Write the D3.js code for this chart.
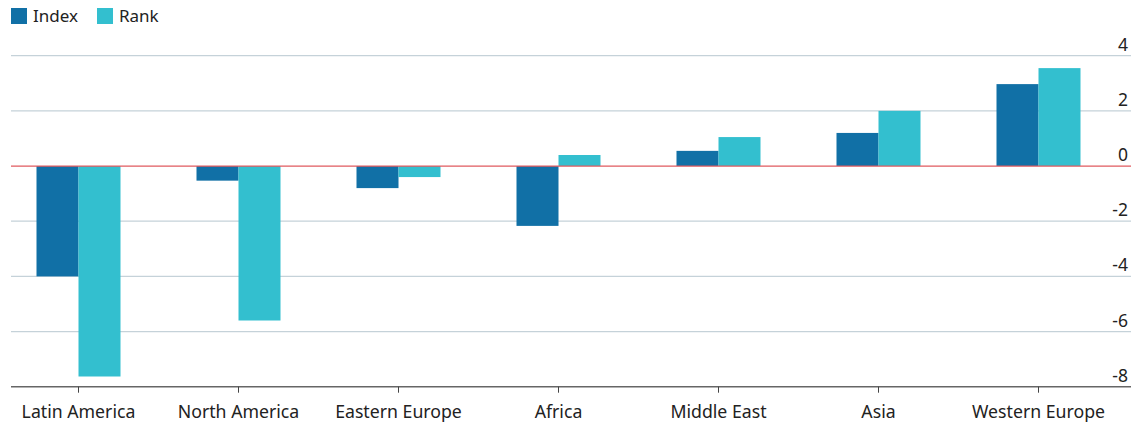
<!DOCTYPE html>
<html><head><meta charset="utf-8">
<script src="https://cdn.jsdelivr.net/npm/d3@7"></script>
<style>body{margin:0;background:#fff}text{font-family:"Noto Sans",sans-serif}</style>
</head><body><svg id="c" width="1143" height="423"></svg>
<script>
const categories = ["Latin America","North America","Eastern Europe","Africa","Middle East","Asia","Western Europe"];
const indexValues = [-4.0, -0.53, -0.8, -2.17, 0.55, 1.2, 2.97];
const rankValues = [-7.63, -5.6, -0.4, 0.4, 1.05, 2.0, 3.55];
const seriesNames = ["Index","Rank"];
const colors = ["#1170a6","#33bfcf"];
const yTicks = [4,2,0,-2,-4,-6,-8];

const svg = d3.select("#c");
const left = 11, right = 1131;
const y = d3.scaleLinear().domain([-8,4]).range([386.7,55.7]);
const x = d3.scaleBand().domain(categories).range([-1.5,1118.5]).padding(0);
const bw = 42;

// gridlines
svg.append("g").selectAll("line").data(yTicks.filter(d=>d!==0 && d!==-8)).join("line")
  .attr("x1",left).attr("x2",right).attr("y1",d=>y(d)).attr("y2",d=>y(d))
  .attr("stroke","#c5d2d9").attr("stroke-width",1.2);

// y labels
svg.append("g").selectAll("text").data(yTicks).join("text")
  .attr("x",1128).attr("y",d=>y(d)-5).attr("text-anchor","end")
  .attr("font-size",17.5).attr("fill","#222").text(d=>d);

// bars
const data = categories.map((c,i)=>({c, v:[indexValues[i], rankValues[i]]}));
const g = svg.append("g");
data.forEach(d=>{
  d.v.forEach((v,j)=>{
    const cx = x(d.c)+x.bandwidth()/2;
    g.append("rect")
      .attr("x", cx - bw + j*bw).attr("width", bw)
      .attr("y", y(Math.max(0,v))).attr("height", Math.abs(y(v)-y(0)))
      .attr("fill", colors[j]);
  });
});

// zero line
svg.append("line").attr("x1",left).attr("x2",right).attr("y1",y(0)).attr("y2",y(0))
  .attr("stroke","#e05a5f").attr("stroke-width",1.3);

// x axis
const xa = svg.append("g").attr("transform",`translate(0,${y(-8)})`);
xa.append("line").attr("x1",left).attr("x2",right).attr("stroke","#666").attr("stroke-width",1.5);
xa.selectAll("line.t").data(categories).join("line").attr("class","t")
  .attr("x1",d=>x(d)+x.bandwidth()/2).attr("x2",d=>x(d)+x.bandwidth()/2)
  .attr("y1",0).attr("y2",6).attr("stroke","#444");
xa.selectAll("text").data(categories).join("text")
  .attr("x",d=>x(d)+x.bandwidth()/2).attr("y",31).attr("text-anchor","middle")
  .attr("font-size",17.7).attr("fill","#222").text(d=>d);

// legend
const leg = svg.append("g");
const lx = [11, 97];
seriesNames.forEach((s,i)=>{
  leg.append("rect").attr("x",lx[i]).attr("y",8).attr("width",16).attr("height",16).attr("fill",colors[i]);
  leg.append("text").attr("x",lx[i]+22).attr("y",22).attr("font-size",17).attr("fill","#222").text(s);
});
</script></body></html>
